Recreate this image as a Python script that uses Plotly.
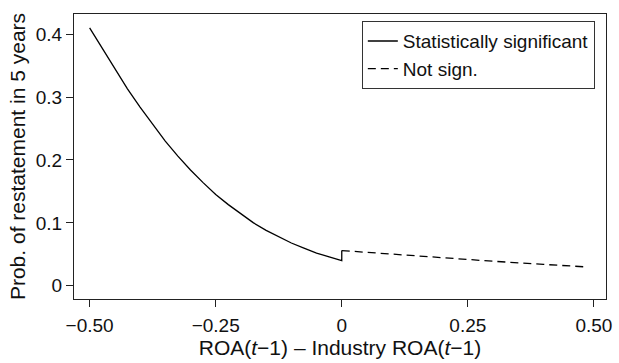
import plotly.graph_objects as go

# Statistically significant segment (ROA diff <= 0)
x_sig = [-0.500, -0.475, -0.450, -0.425, -0.400, -0.375, -0.350, -0.325, -0.300, -0.275,
         -0.250, -0.225, -0.200, -0.175, -0.150, -0.125, -0.100, -0.075, -0.050, -0.025,
         0.000, 0.000]
y_sig = [0.410, 0.377, 0.344, 0.313, 0.284, 0.256, 0.230, 0.206, 0.184, 0.164,
         0.145, 0.129, 0.114, 0.100, 0.088, 0.078, 0.068, 0.060, 0.052, 0.046,
         0.040, 0.056]

# Not significant segment (ROA diff > 0)
x_ns = [0.000, 0.100, 0.200, 0.300, 0.400, 0.485]
y_ns = [0.056, 0.050, 0.044, 0.039, 0.034, 0.030]

x_tickvals = [-0.50, -0.25, 0, 0.25, 0.50]
x_ticktext = ["\u22120.50", "\u22120.25", "0", "0.25", "0.50"]
y_tickvals = [0, 0.1, 0.2, 0.3, 0.4]
y_ticktext = ["0", "0.1", "0.2", "0.3", "0.4"]

FONT = "Liberation Sans, Arial, Helvetica, sans-serif"
FS = 19
TFS = 21

fig = go.Figure()
fig.add_trace(go.Scatter(x=x_sig, y=y_sig, mode="lines", name="Statistically significant",
                         line=dict(color="black", width=1.3)))
fig.add_trace(go.Scatter(x=x_ns, y=y_ns, mode="lines", name="Not sign.",
                         line=dict(color="black", width=1.3, dash="8px,5px")))

axis_common = dict(showgrid=False, zeroline=False, showline=True, linecolor="#222",
                   linewidth=1, mirror=True, ticks="outside", ticklen=7, tickwidth=1,
                   tickcolor="#222", tickfont=dict(family=FONT, size=FS, color="#111"))

fig.update_layout(
    width=619, height=363,
    margin=dict(l=74, r=7, t=14, b=64),
    paper_bgcolor="white", plot_bgcolor="white",
    font=dict(family=FONT, size=FS, color="#111"),
    xaxis=dict(range=[-0.531, 0.524], tickvals=x_tickvals, ticktext=x_ticktext,
               ticklabelstandoff=2,
               title=dict(text="ROA(<i>t</i>\u22121) \u2013 Industry ROA(<i>t</i>\u22121)",
                          font=dict(family=FONT, size=TFS), standoff=2),
               **axis_common),
    yaxis=dict(range=[-0.021, 0.432], tickvals=y_tickvals, ticktext=y_ticktext,
               title=dict(text="Prob. of restatement in 5 years",
                          font=dict(family=FONT, size=TFS), standoff=4),
               **axis_common),
    legend=dict(x=0.979, y=0.975, xanchor="right", yanchor="top",
                bgcolor="white", bordercolor="#333", borderwidth=1,
                font=dict(family=FONT, size=FS), tracegroupgap=0),
    showlegend=True,
)

fig.write_html("out.html")
